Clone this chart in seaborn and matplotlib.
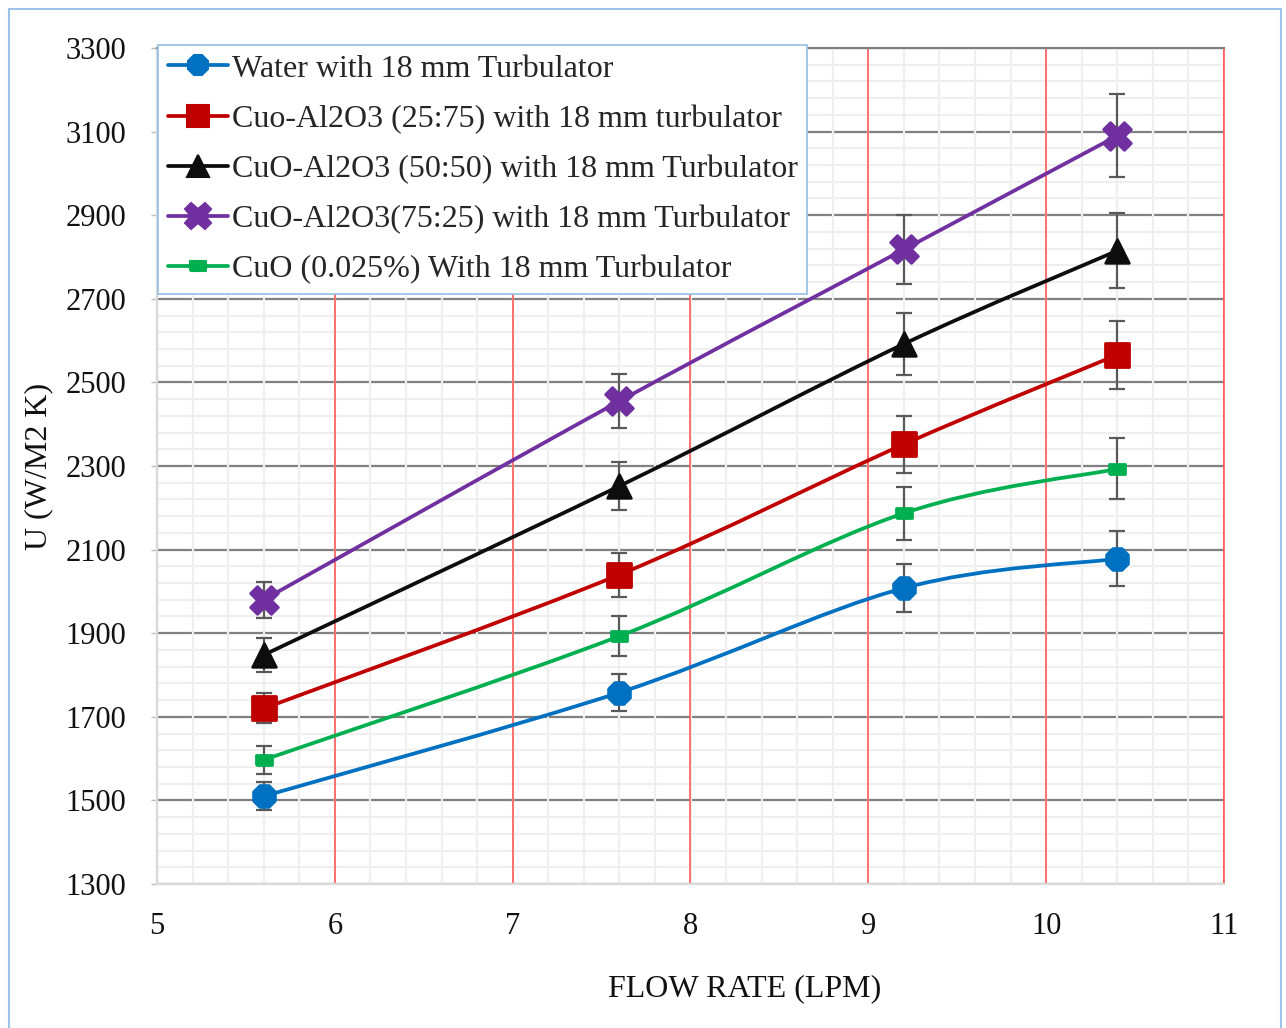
import numpy as np
import pandas as pd
import matplotlib
matplotlib.use("Agg")
import matplotlib.pyplot as plt
from matplotlib.path import Path
from matplotlib.patches import PathPatch, Rectangle
from matplotlib.lines import Line2D
import seaborn as sns

# Flow rates (LPM) and overall heat transfer coefficient U (W/m2 K)
flow_rate = [5.6, 7.6, 9.2, 10.4]

u_water = [1510, 1758, 2008, 2078]
u_cuo_al2o3_25_75 = [1720, 2040, 2352, 2566]
u_cuo_al2o3_50_50 = [1848, 2252, 2592, 2815]
u_cuo_al2o3_75_25 = [1980, 2455, 2818, 3090]
u_cuo = [1597, 1893, 2187, 2293]

err_water = [33, 45, 57, 66]
err_cuo_al2o3_25_75 = [36, 53, 68, 82]
err_cuo_al2o3_50_50 = [40, 58, 74, 90]
err_cuo_al2o3_75_25 = [43, 64, 82, 99]
err_cuo = [34, 47, 63, 73]

labels = [
    "Water with 18 mm Turbulator",
    "Cuo-Al2O3 (25:75) with 18 mm turbulator",
    "CuO-Al2O3 (50:50) with 18 mm Turbulator",
    "CuO-Al2O3(75:25) with 18 mm Turbulator",
    "CuO (0.025%) With 18 mm Turbulator",
]
values = [u_water, u_cuo_al2o3_25_75, u_cuo_al2o3_50_50, u_cuo_al2o3_75_25, u_cuo]
errors = [err_water, err_cuo_al2o3_25_75, err_cuo_al2o3_50_50, err_cuo_al2o3_75_25, err_cuo]
colors = ["#0070C0", "#C00000", "#0D0D0D", "#7030A0", "#00B050"]

x_ticks = [5, 6, 7, 8, 9, 10, 11]
y_ticks = [1300, 1500, 1700, 1900, 2100, 2300, 2500, 2700, 2900, 3100, 3300]

rect_marker = [(-1.0, -0.6), (1.0, -0.6), (1.0, 0.6), (-1.0, 0.6), (-1.0, -0.6)]
markers = ["8", "s", "^", "X", rect_marker]
msizes = [17, 17, 17, 20, 12]

sns.set_theme(style="white")
plt.rcParams["font.family"] = ["Liberation Serif", "DejaVu Serif"]

df = pd.DataFrame(
    [(lab, x, y, e) for lab, ys, es in zip(labels, values, errors)
     for x, y, e in zip(flow_rate, ys, es)],
    columns=["series", "flow", "u", "err"],
)

fig = plt.figure(figsize=(12.86, 10.28), dpi=100)
ax = fig.add_axes([157 / 1286, 1 - 884 / 1028, (1224 - 157) / 1286, (884 - 48) / 1028])
ax.set_xlim(x_ticks[0], x_ticks[-1])
ax.set_ylim(y_ticks[0], y_ticks[-1])
ax.set_xticks(x_ticks)
ax.set_yticks(y_ticks)

# Grid: light minor lines, gray major rows, red major columns
x_minor = np.arange(x_ticks[0], x_ticks[-1], 0.2)
y_minor = np.arange(y_ticks[0], y_ticks[-1], 40)
ax.hlines(y_minor, x_ticks[0], x_ticks[-1], color="#EFEFEF", lw=1.6, zorder=0.5)
ax.hlines(y_ticks, x_ticks[0], x_ticks[-1], color="#808080", lw=1.6, zorder=0.6)
ax.vlines(x_minor, y_ticks[0], y_ticks[-1], color="#EFEFEF", lw=1.6, zorder=0.7)
ax.vlines(x_ticks[1:], y_ticks[0], y_ticks[-1], color="#FF5A5A", lw=1.2, zorder=0.8)


def smooth_path(xs, ys):
    """Smoothed line through the points, as cubic Bezier segments."""
    pts = np.column_stack([xs, ys]).astype(float)
    n = len(pts)
    verts = [pts[0]]
    codes = [Path.MOVETO]
    for i in range(n - 1):
        p0 = pts[max(i - 1, 0)]
        p1 = pts[i]
        p2 = pts[i + 1]
        p3 = pts[min(i + 2, n - 1)]
        verts += [p1 + (p2 - p0) / 6, p2 - (p3 - p1) / 6, p2]
        codes += [Path.CURVE4] * 3
    return Path(verts, codes)


handles = []
for k, (lab, col, mk, ms) in enumerate(zip(labels, colors, markers, msizes)):
    sub = df[df["series"] == lab]
    ax.errorbar(sub["flow"], sub["u"], yerr=sub["err"], fmt="none",
                ecolor="#595959", elinewidth=1.6, capsize=6, capthick=1.6,
                zorder=3 + k * 0.1)
    patch = PathPatch(smooth_path(sub["flow"].values, sub["u"].values),
                      facecolor="none", edgecolor=col, lw=2.7,
                      capstyle="round", zorder=4 + k * 0.1)
    ax.add_patch(patch)
    sns.scatterplot(x=sub["flow"], y=sub["u"], ax=ax, marker=mk,
                    s=ms ** 2, color=col, edgecolor=col, linewidth=2.0,
                    zorder=5 + k * 0.1, legend=False)
    handles.append(Line2D([], [], color=col, lw=2.7, marker=mk,
                          markersize=ms * 0.95, markeredgecolor=col,
                          markeredgewidth=1.5))

for side in ["left", "bottom"]:
    ax.spines[side].set_color("#D9D9D9")
    ax.spines[side].set_linewidth(1.6)
ax.spines["top"].set_color("#808080")
ax.spines["top"].set_linewidth(1.6)
ax.spines["right"].set_color("#FF5A5A")
ax.spines["right"].set_linewidth(1.2)

ax.tick_params(axis="y", which="major", length=4, width=1, color="#BFBFBF",
               direction="out", pad=18, labelsize=22, labelcolor="#111111", left=True)
ax.tick_params(axis="x", which="major", length=0, pad=20, labelsize=22,
               labelcolor="#111111")

ax.set_xlabel("FLOW RATE (LPM)", fontsize=23, color="#111111")
ax.set_ylabel("U (W/M2 K)", fontsize=23, color="#111111")
ax.xaxis.set_label_coords(0.551, -0.108)
ax.yaxis.set_label_coords(-0.097, 0.5)

leg = ax.legend(handles=handles, labels=labels, loc="upper left",
                bbox_to_anchor=(0.001, 1.004), borderaxespad=0,
                fontsize=23, frameon=True, fancybox=False, framealpha=1,
                edgecolor="#9DC3E6", facecolor="white", handlelength=1.9,
                handletextpad=0.1, labelspacing=0.65, borderpad=0.3)
leg.get_frame().set_linewidth(1.3)
leg.set_zorder(10)

fig.patches.append(Rectangle((9 / 1286, -0.02), (1281 - 9) / 1286, 1.02 - 9 / 1028,
                             transform=fig.transFigure, fill=False,
                             edgecolor="#9DC3E6", lw=1.5))

fig.savefig("out.png", dpi=100, facecolor="white")
